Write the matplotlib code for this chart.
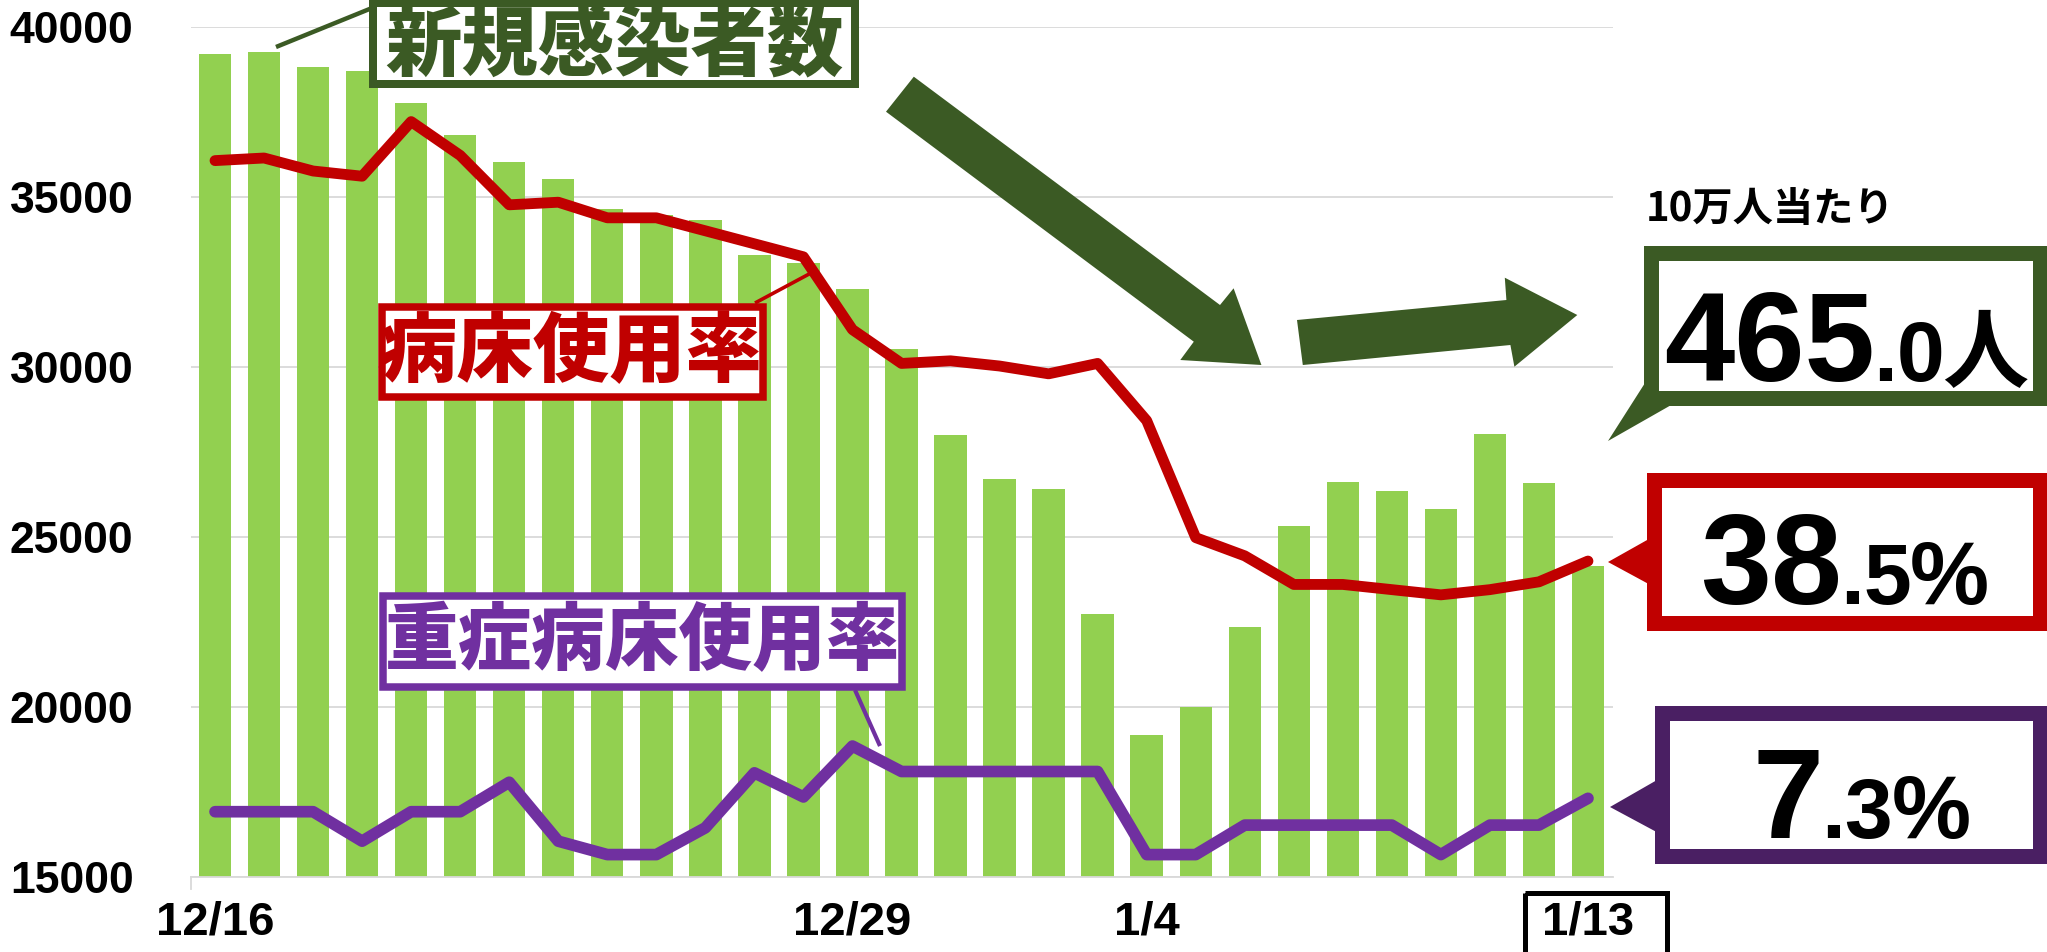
import matplotlib
matplotlib.use("Agg")
import matplotlib.pyplot as plt
from matplotlib.patches import Rectangle, Polygon
from matplotlib.transforms import blended_transform_factory

# ---------------- data ----------------
dates = ["12/16", "12/17", "12/18", "12/19", "12/20", "12/21", "12/22", "12/23",
         "12/24", "12/25", "12/26", "12/27", "12/28", "12/29", "12/30", "12/31",
         "1/1", "1/2", "1/3", "1/4", "1/5", "1/6", "1/7", "1/8", "1/9", "1/10",
         "1/11", "1/12", "1/13"]
new_cases = [39190, 39250, 38820, 38710, 37760, 36820, 36020, 35530, 34630, 34460,
             34320, 33280, 33050, 32280, 30520, 27990, 26710, 26400, 22730, 19180,
             19980, 22350, 25320, 26600, 26340, 25820, 28010, 26570, 24140]
bed_rate = [53.9, 54.0, 53.5, 53.3, 55.4, 54.1, 52.2, 52.3, 51.7, 51.7, 51.2, 50.7,
            50.2, 47.4, 46.1, 46.2, 46.0, 45.7, 46.1, 43.9, 39.4, 38.7, 37.6, 37.6,
            37.4, 37.2, 37.4, 37.7, 38.5]
severe_rate = [7.20, 7.20, 7.20, 6.98, 7.20, 7.20, 7.42, 6.98, 6.88, 6.88, 7.08, 7.49,
               7.31, 7.69, 7.50, 7.50, 7.50, 7.50, 7.50, 6.88, 6.88, 7.10, 7.10, 7.10,
               7.10, 6.88, 7.10, 7.10, 7.30]
shown_ticks = ["12/16", "12/29", "1/4", "1/13"]
y_ticks = [15000, 20000, 25000, 30000, 35000, 40000]
per100k_main, per100k_dec = "465", ".0"
bed_main, bed_dec = "38", ".5"
sev_main, sev_dec = "7", ".3"

# ---------------- style ----------------
W, H = 2047, 952
GREEN_BAR = "#92D050"
RED = "#C00000"
PURPLE = "#7030A0"
DKPURPLE = "#4A1F63"
DKGREEN = "#3B5A24"
GRID = "#D9D9D9"
JP = ["Noto Sans CJK JP", "DejaVu Sans"]
NUM = ["Liberation Sans", "DejaVu Sans"]
BIG = ["Liberation Sans", "DejaVu Sans"]

fig = plt.figure(figsize=(W / 100, H / 100), dpi=100)

ax_left, ax_right = 190.5, 1612.5
ax_top, ax_bot = 26.7, 876.7
ax = fig.add_axes([ax_left / W, 1 - ax_bot / H, (ax_right - ax_left) / W, (ax_bot - ax_top) / H])

x = list(range(len(dates)))
ax.bar(x, new_cases, width=0.66, color=GREEN_BAR, zorder=2)
ax.set_xlim(-0.5, len(dates) - 0.5)
ax.set_ylim(15000, 40000)
ax.set_yticks(y_ticks)
ax.set_yticklabels([str(v) for v in y_ticks], family=NUM, fontweight="bold", fontsize=32)
ax.yaxis.grid(True, color=GRID, linewidth=1.3, zorder=0)
ax.set_axisbelow(True)
tick_pos = [dates.index(d) for d in shown_ticks]
ax.set_xticks(tick_pos)
ax.set_xticklabels(shown_ticks, family=NUM, fontweight="bold", fontsize=34)
ax.tick_params(axis="x", length=0, pad=17)
ax.tick_params(axis="y", length=0, pad=41)
for s in ["left", "right", "top"]:
    ax.spines[s].set_visible(False)
ax.spines["bottom"].set_color(GRID)
ax.spines["bottom"].set_linewidth(1.3)
tr = blended_transform_factory(ax.transData, ax.transAxes)
ax.plot([-0.5, -0.5], [0, -0.014], transform=tr, color=GRID, lw=1.3, clip_on=False)

ax2 = ax.twinx()
ax2.plot(x, bed_rate, color=RED, lw=7.8, solid_capstyle="round", solid_joinstyle="round", zorder=3)
ax2.set_ylim(26.36, 59.05)
ax2.axis("off")

ax3 = ax.twinx()
ax3.plot(x, severe_rate, color=PURPLE, lw=8.4, solid_capstyle="round", solid_joinstyle="round", zorder=3)
ax3.set_ylim(6.715, 13.058)
ax3.axis("off")

# ---------------- overlay in pixel coordinates ----------------
ov = fig.add_axes([0, 0, 1, 1], zorder=10)
ov.set_xlim(0, W)
ov.set_ylim(H, 0)
ov.axis("off")
ov.patch.set_alpha(0)


def box(x0, y0, x1, y1, b, color, z=5):
    ov.add_patch(Rectangle((x0 + b / 2, y0 + b / 2), x1 - x0 - b, y1 - y0 - b,
                           facecolor="white", edgecolor=color, linewidth=b * 0.72,
                           joinstyle="miter", zorder=z))


def line(p, q, color, w):
    ov.plot([p[0], q[0]], [p[1], q[1]], color=color, lw=w, solid_capstyle="butt", zorder=4)


# label: new cases
line((276, 47), (372, 8), DKGREEN, 3.2)
box(369, -1, 859, 88, 8, DKGREEN)
ov.text(614, 46, "新規感染者数", family=JP, fontweight="heavy", fontsize=55, color=DKGREEN,
        ha="center", va="center", zorder=6)

# label: bed use
line((755, 303), (811, 273), RED, 2.6)
box(378, 303, 767, 401, 7.5, RED)
ov.text(572, 353, "病床使用率", family=JP, fontweight="heavy", fontsize=55, color=RED,
        ha="center", va="center", zorder=6)

# label: severe bed use
line((855, 690), (880, 746), PURPLE, 3.0)
box(379, 592, 906, 691, 7.5, PURPLE)
ov.text(643, 642, "重症病床使用率", family=JP, fontweight="heavy", fontsize=53, color=PURPLE,
        ha="center", va="center", zorder=6)

# big arrows
ov.add_patch(Polygon([(913.8, 76.7), (1220, 305), (1233.6, 288.3), (1261.4, 365),
                      (1180.3, 360), (1193.8, 341.7), (886, 111.7)],
                     closed=True, facecolor=DKGREEN, edgecolor="none", zorder=7))
ov.add_patch(Polygon([(1297, 320), (1506.4, 300), (1504.8, 277.7), (1577.3, 315),
                      (1514.4, 366.7), (1510.4, 345), (1302.8, 365)],
                     closed=True, facecolor=DKGREEN, edgecolor="none", zorder=7))

# 10万人当たり
ov.text(1646, 221, "10万人当たり", family=JP, fontweight="bold", fontsize=29, color="black",
        ha="left", va="baseline", zorder=6)

# callout boxes
ov.add_patch(Polygon([(1652, 372), (1608, 441), (1680, 400)], closed=True,
                     facecolor=DKGREEN, edgecolor="none", zorder=4))
box(1643, 245, 2047, 405, 15, DKGREEN)
ov.add_patch(Polygon([(1608, 562), (1656, 535), (1656, 588)], closed=True,
                     facecolor=RED, edgecolor="none", zorder=4))
box(1646, 472, 2047, 630, 15, RED)
ov.add_patch(Polygon([(1610, 807), (1664, 776), (1664, 836)], closed=True,
                     facecolor=DKPURPLE, edgecolor="none", zorder=4))
box(1654, 705, 2047, 863, 15, DKPURPLE)

renderer = fig.canvas.get_renderer()


def composite(base, parts):
    cur = 0
    for s, fam, size, xs in parts:
        start = max(xs, cur)
        t = ov.text(start, base, s, family=fam, fontweight="bold", fontsize=size, color="black",
                    ha="left", va="baseline", zorder=8)
        bb = t.get_window_extent(renderer=renderer)
        cur = bb.x1 - 2


composite(381, [(per100k_main, BIG, 91, 1664), (per100k_dec, BIG, 62, 1870),
                ("人", JP, 62, 1942)])
composite(604, [(bed_main, BIG, 92, 1700), (bed_dec, BIG, 62, 1838), ("%", BIG, 64, 1910)])
composite(838, [(sev_main, BIG, 92, 1752), (sev_dec, BIG, 62, 1818), ("%", BIG, 64, 1892)])

# 1/13 frame
ov.add_patch(Rectangle((1525, 893), 142, 70, facecolor="none", edgecolor="black",
                       linewidth=3.6, zorder=6))

fig.savefig("out.png", dpi=100)
